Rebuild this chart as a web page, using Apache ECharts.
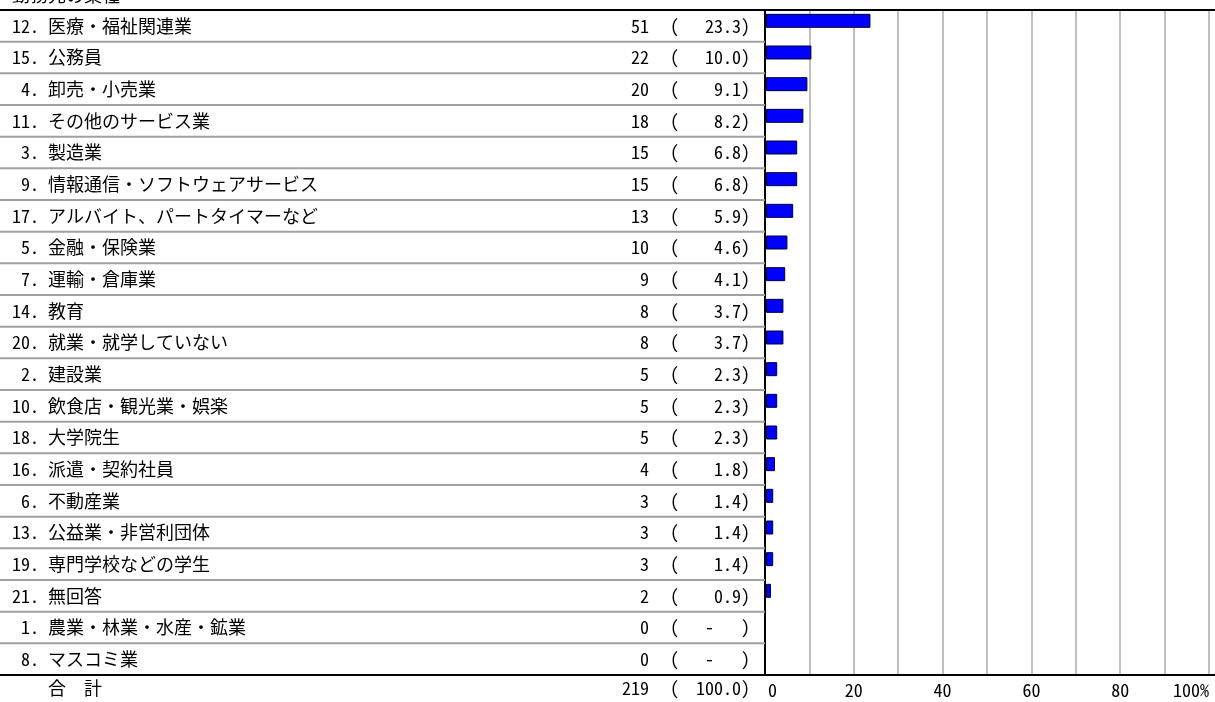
<!DOCTYPE html>
<html>
<head>
<meta charset="utf-8">
<script src="https://cdn.jsdelivr.net/npm/echarts@6/dist/echarts.min.js"></script>
<style>
html,body{margin:0;padding:0;background:#fff;}
#chart{width:1215px;height:702px;}
</style>
</head>
<body>
<div id="chart"></div>
<script>
const title = '勤務先の業種';
const categories = [
  '12. 医療・福祉関連業',
  '15. 公務員',
  ' 4. 卸売・小売業',
  '11. その他のサービス業',
  ' 3. 製造業',
  ' 9. 情報通信・ソフトウェアサービス',
  '17. アルバイト、パートタイマーなど',
  ' 5. 金融・保険業',
  ' 7. 運輸・倉庫業',
  '14. 教育',
  '20. 就業・就学していない',
  ' 2. 建設業',
  '10. 飲食店・観光業・娯楽',
  '18. 大学院生',
  '16. 派遣・契約社員',
  ' 6. 不動産業',
  '13. 公益業・非営利団体',
  '19. 専門学校などの学生',
  '21. 無回答',
  ' 1. 農業・林業・水産・鉱業',
  ' 8. マスコミ業'
];
const counts = [51, 22, 20, 18, 15, 15, 13, 10, 9, 8, 8, 5, 5, 5, 4, 3, 3, 3, 2, 0, 0];
const percents = [23.3, 10.0, 9.1, 8.2, 6.8, 6.8, 5.9, 4.6, 4.1, 3.7, 3.7, 2.3, 2.3, 2.3, 1.8, 1.4, 1.4, 1.4, 0.9, 0, 0];
const totalLabel = '合　計';
const totalCount = 219;
const totalPercent = 100.0;
const xTicks = [0, 20, 40, 60, 80, 100];

const FONT = "'Noto Sans Mono CJK JP', 'Noto Sans CJK JP', sans-serif";
const FS = 18;
const rows = categories.map((c, i) => [percents[i], i]);

const chart = echarts.init(document.getElementById('chart'), null, {renderer: 'canvas'});

function pctText(v) {
  return v > 0 ? v.toFixed(1) + ')' : '-   )';
}

const option = {
  backgroundColor: '#ffffff',
  animation: false,
  textStyle: {fontFamily: FONT},
  grid: {left: 765, right: 6, top: 10, bottom: 27, containLabel: false},
  xAxis: {
    type: 'value', min: 0, max: 100, interval: 10,
    axisLine: {show: false},
    axisTick: {show: false},
    splitLine: {show: true, lineStyle: {color: '#c0c0c0', width: 2}},
    axisLabel: {
      show: true, margin: 6, color: '#000', fontSize: FS, fontFamily: FONT,
      alignMinLabel: 'left', alignMaxLabel: 'right',
      rich: {z: {padding: [0, 0, 0, 3], fontSize: FS, fontFamily: FONT, color: '#000'}},
      formatter: function (v) {
        if (xTicks.indexOf(v) < 0) return '';
        if (v === 0) return '{z|0}';
        return v === 100 ? '100%' : String(v);
      }
    }
  },
  yAxis: {
    type: 'category', data: categories, inverse: true,
    axisLine: {show: true, onZero: false, lineStyle: {color: '#000', width: 2}},
    axisTick: {show: false},
    axisLabel: {show: false},
    splitLine: {show: false}
  },
  graphic: [{
    type: 'text', left: 12, top: -14,
    style: {text: title, font: FS + 'px ' + FONT, fill: '#000'}
  }],
  series: [
    {
      type: 'custom', name: 'table', clip: false, z: 3,
      data: rows,
      encode: {x: 0, y: 1},
      renderItem: function (params, api) {
        const i = api.value(1);
        const c = api.coord([0, i]);
        const h = api.size([0, 1])[1];
        const cy = c[1];
        const axisX = c[0];
        const children = [];
        const font = FS + 'px ' + FONT;
        children.push({type: 'text', style: {text: categories[i], x: 12, y: cy, font: font, fill: '#000', textAlign: 'left', textVerticalAlign: 'middle'}});
        children.push({type: 'text', style: {text: String(counts[i]), x: 649, y: cy, font: font, fill: '#000', textAlign: 'right', textVerticalAlign: 'middle'}});
        children.push({type: 'text', style: {text: '(', x: 670, y: cy, font: font, fill: '#000', textAlign: 'left', textVerticalAlign: 'middle'}});
        children.push({type: 'text', style: {text: pctText(percents[i]), x: 750, y: cy, font: font, fill: '#000', textAlign: 'right', textVerticalAlign: 'middle'}});
        const bottom = cy + h / 2;
        if (i < categories.length - 1) {
          children.push({type: 'line', shape: {x1: 0, y1: bottom, x2: axisX, y2: bottom}, style: {stroke: '#a0a0a0', lineWidth: 2}});
        } else {
          children.push({type: 'line', shape: {x1: 0, y1: bottom, x2: 1215, y2: bottom}, style: {stroke: '#000', lineWidth: 2}, z2: 10});
          const ty = bottom + 13;
          children.push({type: 'text', style: {text: totalLabel, x: 48, y: ty, font: font, fill: '#000', textAlign: 'left', textVerticalAlign: 'middle'}});
          children.push({type: 'text', style: {text: String(totalCount), x: 649, y: ty, font: font, fill: '#000', textAlign: 'right', textVerticalAlign: 'middle'}});
          children.push({type: 'text', style: {text: '(', x: 670, y: ty, font: font, fill: '#000', textAlign: 'left', textVerticalAlign: 'middle'}});
          children.push({type: 'text', style: {text: totalPercent.toFixed(1) + ')', x: 750, y: ty, font: font, fill: '#000', textAlign: 'right', textVerticalAlign: 'middle'}});
        }
        if (i === 0) {
          const top = cy - h / 2;
          children.push({type: 'line', shape: {x1: 0, y1: top, x2: 1215, y2: top}, style: {stroke: '#000', lineWidth: 2}, z2: 10});
        }
        return {type: 'group', children: children};
      }
    },
    {
      type: 'custom', name: 'bars', clip: false, z: 4,
      data: rows,
      encode: {x: 0, y: 1},
      renderItem: function (params, api) {
        const v = api.value(0);
        const i = api.value(1);
        if (!(v > 0)) return null;
        const s = api.coord([0, i]);
        const e = api.coord([v, i]);
        const cy = s[1] - 5;
        return {
          type: 'rect',
          shape: {x: s[0] + 1.5, y: cy - 6.5, width: e[0] - s[0], height: 13},
          style: {fill: '#0000ff', stroke: '#000033', lineWidth: 1}
        };
      }
    }
  ]
};
chart.setOption(option);
</script>
</body>
</html>
